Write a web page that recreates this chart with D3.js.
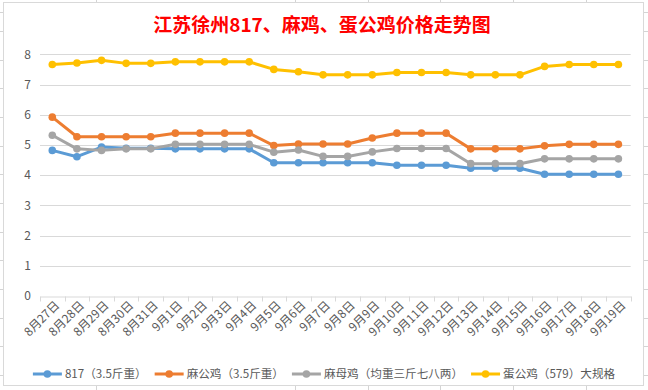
<!DOCTYPE html>
<html><head><meta charset="utf-8">
<script src="https://cdn.jsdelivr.net/npm/d3@7/dist/d3.min.js"></script>
<style>
html,body{margin:0;padding:0;background:#fff;}
svg{display:block;}
text{font-family:"Noto Sans CJK SC","Noto Sans",sans-serif;}
</style></head>
<body>
<svg id="chart" width="648" height="390"></svg>
<script>
const categories = ["8月27日","8月28日","8月29日","8月30日","8月31日","9月1日","9月2日","9月3日","9月4日","9月5日","9月6日","9月7日","9月8日","9月9日","9月10日","9月11日","9月12日","9月13日","9月14日","9月15日","9月16日","9月17日","9月18日","9月19日"];
const s817   = [4.82,4.61,4.93,4.89,4.89,4.87,4.87,4.87,4.87,4.41,4.41,4.41,4.41,4.41,4.33,4.33,4.33,4.23,4.23,4.23,4.03,4.03,4.03,4.03];
const maGong = [5.92,5.27,5.27,5.27,5.27,5.39,5.39,5.39,5.39,4.98,5.03,5.03,5.03,5.23,5.39,5.39,5.39,4.87,4.87,4.87,4.97,5.02,5.02,5.02];
const maMu   = [5.32,4.87,4.82,4.87,4.87,5.02,5.02,5.02,5.02,4.76,4.83,4.62,4.62,4.77,4.88,4.88,4.88,4.38,4.38,4.38,4.54,4.54,4.54,4.54];
const danGong= [7.66,7.71,7.8,7.7,7.7,7.75,7.75,7.75,7.75,7.5,7.42,7.32,7.32,7.32,7.4,7.4,7.4,7.32,7.32,7.32,7.6,7.66,7.66,7.66];
const seriesNames = ["817（3.5斤重）","麻公鸡（3.5斤重）","麻母鸡（均重三斤七八两）","蛋公鸡（579）大规格"];
const seriesColors = ["#5B9BD5","#ED7D31","#A5A5A5","#FFC000"];
const yTicks = [0,1,2,3,4,5,6,7,8];
const title = "江苏徐州817、麻鸡、蛋公鸡价格走势图";

const seriesData = [s817, maGong, maMu, danGong];
const svg = d3.select("#chart");

// spreadsheet background grid
const bg = svg.append("g").attr("stroke","#d4d4d4").attr("stroke-width",1);
[12,31,60,88,117,146,174,203,232,260,289,318,346,375].forEach(y=>{
  bg.append("line").attr("x1",0).attr("x2",3).attr("y1",y+0.5).attr("y2",y+0.5);
  bg.append("line").attr("x1",644).attr("x2",648).attr("y1",y+0.5).attr("y2",y+0.5);
});
[96,295,368,440,513,586].forEach(x=>{
  bg.append("line").attr("x1",x+0.5).attr("x2",x+0.5).attr("y1",0).attr("y2",2);
  bg.append("line").attr("x1",x+0.5).attr("x2",x+0.5).attr("y1",386).attr("y2",390);
});

// chart area
svg.append("rect").attr("x",3.5).attr("y",2.5).attr("width",640).attr("height",383)
  .attr("fill","#fff").attr("stroke","#d9d9d9").attr("stroke-width",1);

// title
svg.append("text").attr("x",322).attr("y",32).attr("text-anchor","middle")
  .attr("fill","#ff0000").attr("font-size",19).attr("font-weight","bold").text(title);

const x = d3.scaleBand().domain(categories).range([40,630.7]).padding(0);
const y = d3.scaleLinear().domain([0,8]).range([296,54.3]);

// gridlines
svg.append("g").selectAll("line").data(yTicks.filter(d=>d>0)).join("line")
  .attr("x1",40).attr("x2",630.7)
  .attr("y1",d=>Math.round(y(d))+0.5).attr("y2",d=>Math.round(y(d))+0.5)
  .attr("stroke","#d9d9d9").attr("stroke-width",1);

// y axis labels
svg.append("g").selectAll("text").data(yTicks).join("text")
  .attr("x",31).attr("y",d=>y(d)).attr("dy","0.35em").attr("text-anchor","end")
  .attr("fill","#595959").attr("font-size",12).text(d=>d);

// x axis
const xAxis = d3.axisBottom(x).tickSize(0).tickFormat("");
const gx = svg.append("g").attr("transform",`translate(0,${Math.round(y(0))+0.5})`).call(xAxis);
gx.select(".domain").attr("stroke","#d9d9d9");
const bounds = categories.map(c=>x(c)).concat([x.range()[1]]);
gx.append("g").selectAll("line").data(bounds).join("line")
  .attr("x1",d=>Math.round(d)+0.5).attr("x2",d=>Math.round(d)+0.5)
  .attr("y1",0).attr("y2",5).attr("stroke","#d9d9d9");

svg.append("g").selectAll("text").data(categories).join("text")
  .attr("transform",d=>`translate(${x(d)+x.bandwidth()/2+5},${303}) rotate(-45)`)
  .attr("text-anchor","end").attr("dy","0.35em")
  .attr("fill","#595959").attr("font-size",12).text(d=>d);

// lines
const line = d3.line().x((d,i)=>x(categories[i])+x.bandwidth()/2).y(d=>y(d));
seriesData.forEach((vals,si)=>{
  const g = svg.append("g");
  g.append("path").datum(vals).attr("d",line).attr("fill","none")
    .attr("stroke",seriesColors[si]).attr("stroke-width",3).attr("stroke-linejoin","round");
  g.selectAll("circle").data(vals).join("circle")
    .attr("cx",(d,i)=>x(categories[i])+x.bandwidth()/2).attr("cy",d=>y(d))
    .attr("r",3.8).attr("fill",seriesColors[si]);
});

// legend
const leg = svg.append("g");
const ly = 374;
let items = [];
seriesNames.forEach((n,i)=>{
  const g = leg.append("g");
  g.append("line").attr("x1",0).attr("x2",29).attr("y1",0).attr("y2",0)
    .attr("stroke",seriesColors[i]).attr("stroke-width",3);
  g.append("circle").attr("cx",14.5).attr("cy",0).attr("r",3.8).attr("fill",seriesColors[i]);
  const t = g.append("text").attr("x",32).attr("y",0).attr("dy","0.35em")
    .attr("fill","#595959").attr("font-size",11.6).text(n);
  items.push({g, w: 32 + t.node().getComputedTextLength()});
});
const gap = 8;
const total = d3.sum(items,d=>d.w) + gap*(items.length-1);
let cx = 324 - total/2;
items.forEach(it=>{ it.g.attr("transform",`translate(${cx},${ly})`); cx += it.w + gap; });
</script>
</body></html>
